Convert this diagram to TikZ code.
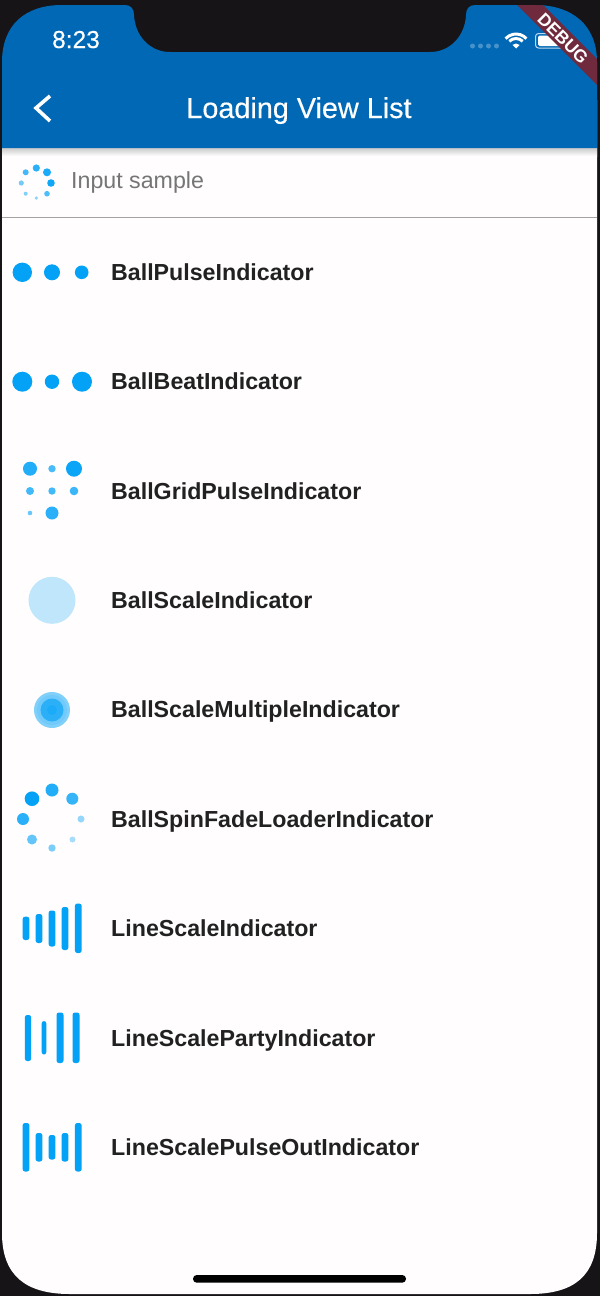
\documentclass[tikz,border=0pt]{standalone}
\usepackage{fontspec}
\setmainfont{Liberation Sans}
\newfontfamily\mediumfont[FakeBold=0.35]{Liberation Sans}
\definecolor{pagebg}{HTML}{161416}
\definecolor{screenbg}{HTML}{FFFDFE}
\definecolor{barblue}{HTML}{0068B5}
\definecolor{ball}{HTML}{03A2F7}
\definecolor{ribbon}{HTML}{6F2A3D}
\definecolor{labeltxt}{HTML}{212121}
\definecolor{hinttxt}{HTML}{757575}
\newcommand{\screenpath}{(2,62) .. controls (2,25) and (25,5) .. (62,5) -- (597-62,5) .. controls (597-25,5) and (597,25) .. (597,62) -- (597,1233) .. controls (597,1275) and (575,1294) .. (530,1294) -- (70,1294) .. controls (25,1294) and (2,1275) .. (2,1233) -- cycle}
\newcommand{\barpath}{(2,62) .. controls (2,25) and (25,5) .. (62,5) -- (125,5) .. controls (131,5) and (134,9) .. (134,15) .. controls (135,36) and (150,52) .. (170,52) -- (430,52) .. controls (450,52) and (465,36) .. (466,15) .. controls (466,9) and (469,5) .. (475,5) -- (535,5) .. controls (572,5) and (597,25) .. (597,62) -- (597,148) -- (2,148) -- cycle}
\newcommand{\dotat}[4]{\fill[ball!#4!screenbg] (#1,#2) circle[radius=#3];}
\newcommand{\barat}[4]{\fill[ball,rounded corners=2.4pt] (#1-#4/2,#2) rectangle (#1+#4/2,#3);}
\tikzset{
  itemlabel/.style={anchor=base west,inner sep=0pt,font=\fontsize{23.2}{26}\selectfont\bfseries,text=labeltxt},
  hintlabel/.style={anchor=base west,inner sep=0pt,font=\fontsize{23.2}{26}\selectfont,text=hinttxt},
}
\begin{document}
\begin{tikzpicture}[x=1pt,y=-1pt]
\useasboundingbox (0,0) rectangle (600,1296);
\fill[pagebg] (0,0) rectangle (600,1296);
\begin{scope}
  \clip (0,100) rectangle (600,1296);
  \fill[screenbg] \screenpath;
\end{scope}
% shadow beneath the bar
\shade[top color=black!20,bottom color=screenbg] (2,148) rectangle (597,156);
% app bar, with the notch cut out
\fill[barblue] \barpath;
% status bar
\node[anchor=base,inner sep=0pt,text=white,font=\fontsize{24.5}{28}\mediumfont] (clock) at (76,48) {8:23};
\foreach \sx in {472.5,480.5,488.5,496.5}
  \fill[white!28!barblue] (\sx,46) circle[radius=2.5];
\fill[white] (516,48.5) -- ++(45:5pt) arc[start angle=45,end angle=135,radius=5pt] -- cycle;
\draw[white,line width=3pt] (516,48)++(45:9.5pt) arc[start angle=45,end angle=135,radius=9.5pt];
\draw[white,line width=3pt] (516,48)++(42:14pt) arc[start angle=42,end angle=138,radius=14pt];
\draw[white!75!barblue,line width=1pt,rounded corners=3pt] (535.5,33.5) rectangle (568,48);
\fill[white,rounded corners=1.5pt] (538,35.5) rectangle (565,46);
% debug ribbon
\begin{scope}
  \clip \screenpath;
  \fill[ribbon] (512,0) -- (538,0) -- (620,82) -- (620,108) -- cycle;
\end{scope}
\node[rotate=-45,inner sep=0pt,text=white,font=\fontsize{17.5}{20}\selectfont\bfseries] (debug) at (563,38.5) {DEBUG};
% navigation
\draw[white,line width=3.6pt,line join=miter] (50,96) -- (36,108) -- (50,121);
\node[anchor=base,inner sep=0pt,text=white,font=\fontsize{28.8}{32}\mediumfont] (title) at (299,118) {Loading View List};
% input row
\dotat{36.3}{168}{3.6}{85}
\dotat{47}{172.3}{4}{90}
\dotat{51}{183}{3.8}{95}
\dotat{47}{193.7}{2.8}{70}
\dotat{36.3}{198}{1.8}{45}
\dotat{25.7}{193.7}{2}{50}
\dotat{21.3}{183}{2.6}{55}
\dotat{25.7}{172.3}{3}{75}
\node[hintlabel] (hint) at (71,188) {Input sample};
\draw[black!36,line width=1.6pt] (2,217.3) -- (597,217.3);
% BallPulse
\dotat{22.3}{272.3}{9.7}{100}
\dotat{52}{272.3}{8}{100}
\dotat{81.7}{272.3}{6.8}{100}
\node[itemlabel] (l1) at (111,280.3) {BallPulseIndicator};
% BallBeat
\dotat{22.3}{381.7}{10}{100}
\dotat{52}{381.7}{7.2}{100}
\dotat{82}{381.7}{10}{100}
\node[itemlabel] (l2) at (111,389.7) {BallBeatIndicator};
% BallGridPulse
\dotat{30}{468.7}{7}{88}
\dotat{52}{468.7}{3.7}{72}
\dotat{74}{468.7}{8}{97}
\dotat{30}{491}{4}{75}
\dotat{52}{491}{3.7}{75}
\dotat{74}{491}{4.3}{78}
\dotat{30}{513}{2.3}{60}
\dotat{52}{513}{6.5}{85}
\node[itemlabel] (l3) at (111,499.1) {BallGridPulseIndicator};
% BallScale
\dotat{52}{600.3}{23.5}{25}
\node[itemlabel] (l4) at (111,608.5) {BallScaleIndicator};
% BallScaleMultiple
\dotat{52}{710}{18}{50}
\dotat{52}{710}{15}{56}
\dotat{52}{710}{11.5}{84}
\dotat{52}{710}{5}{90}
\node[itemlabel] (l5) at (111,717.9) {BallScaleMultipleIndicator};
% BallSpinFadeLoader
\dotat{52}{790}{6.5}{88}
\dotat{72.3}{798.7}{6}{80}
\dotat{81}{819}{3.5}{42}
\dotat{72.5}{839.5}{3}{35}
\dotat{52}{848}{3.7}{52}
\dotat{32}{839.5}{5}{62}
\dotat{23}{819}{6}{85}
\dotat{32}{798.7}{7.3}{100}
\node[itemlabel] (l6) at (111,827.3) {BallSpinFadeLoaderIndicator};
% LineScale
\barat{26}{916.7}{940}{6.8}
\barat{39}{914}{943}{6.8}
\barat{52}{910.5}{946.5}{6.8}
\barat{65}{907}{950}{6.8}
\barat{78.3}{903.5}{953}{6.8}
\node[itemlabel] (l7) at (111,936.7) {LineScaleIndicator};
% LineScaleParty
\barat{28}{1015}{1061}{6.4}
\barat{44}{1021}{1054.5}{4.6}
\barat{60}{1012.5}{1063}{7}
\barat{76}{1012.5}{1063}{7}
\node[itemlabel] (l8) at (111,1046.1) {LineScalePartyIndicator};
% LineScalePulseOut
\barat{26}{1123}{1171.5}{6.8}
\barat{39}{1133}{1161.5}{6.8}
\barat{52}{1135}{1159.5}{6.8}
\barat{65}{1133}{1161.5}{6.8}
\barat{78.3}{1123}{1171.5}{6.8}
\node[itemlabel] (l9) at (111,1155.5) {LineScalePulseOutIndicator};
% home indicator
\fill[black,rounded corners=3.7pt] (193,1275) rectangle (406,1282.7);
\end{tikzpicture}
\end{document}
